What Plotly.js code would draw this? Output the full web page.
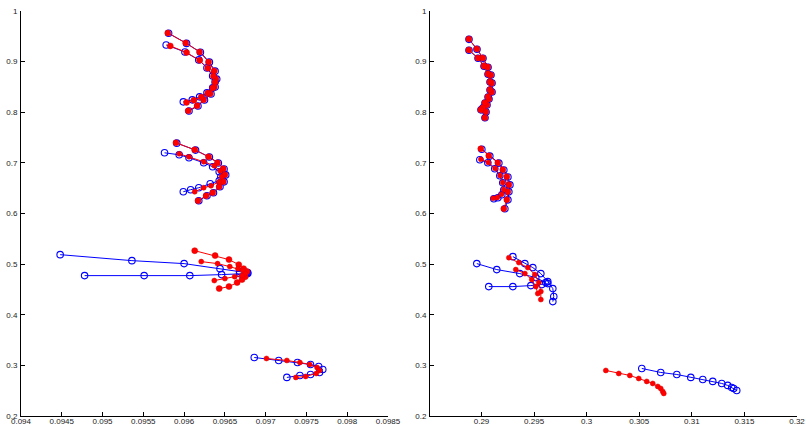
<!DOCTYPE html>
<html>
<head>
<meta charset="utf-8">
<script src="https://cdn.plot.ly/plotly-3.0.1.min.js"></script>
<style>html,body{margin:0;padding:0;background:#fff}#chart{width:806px;height:426px}</style>
</head>
<body>
<div id="chart"></div>
<script>
// ---------- Left panel data ----------
// group 1 (top)
const L1_blue1_x = [0.09581,0.09603,0.09620,0.09631,0.09638,0.09640,0.09638,0.09633,0.09625,0.09617,0.09606];
const L1_blue1_y = [0.9560,0.9360,0.9185,0.8990,0.8812,0.8655,0.8498,0.8360,0.8242,0.8124,0.8026];
const L1_blue2_x = [0.09578,0.09601,0.09618,0.09628,0.09635,0.09638,0.09635,0.09628,0.09619,0.09610,0.09599];
const L1_blue2_y = [0.9329,0.9191,0.9034,0.8876,0.8718,0.8600,0.8481,0.8383,0.8304,0.8245,0.8205];
const L1_red1_x = [0.09580,0.09602,0.09619,0.09630,0.09637,0.09639,0.09637,0.09632,0.09624,0.09616,0.09605];
const L1_red1_y = [0.9566,0.9369,0.9191,0.8994,0.8817,0.8659,0.8501,0.8363,0.8245,0.8126,0.8028];
const L1_red2_x = [0.09583,0.09603,0.09619,0.09629,0.09636,0.09638,0.09635,0.09629,0.09621,0.09612,0.09603];
const L1_red2_y = [0.9310,0.9180,0.9025,0.8870,0.8712,0.8595,0.8477,0.8378,0.8300,0.8238,0.8195];
// group 2
const L2_blue1_x = [0.09591,0.09614,0.09631,0.09642,0.09649,0.09651,0.09649,0.09644,0.09636,0.09628,0.09618];
const L2_blue1_y = [0.7390,0.7252,0.7115,0.6998,0.6880,0.6762,0.6625,0.6527,0.6409,0.6350,0.6252];
const L2_blue2_x = [0.09576,0.09594,0.09606,0.09624,0.09635,0.09643,0.09645,0.09643,0.09632,0.09618,0.09608,0.09599];
const L2_blue2_y = [0.7199,0.7160,0.7101,0.7002,0.6923,0.6824,0.6726,0.6647,0.6588,0.6509,0.6470,0.6430];
const L2_red1_x = [0.09590,0.09613,0.09630,0.09641,0.09648,0.09650,0.09648,0.09643,0.09635,0.09627,0.09617];
const L2_red1_y = [0.7397,0.7258,0.7120,0.7002,0.6884,0.6765,0.6627,0.6529,0.6410,0.6351,0.6252];
const L2_red2_x = [0.09594,0.09606,0.09624,0.09637,0.09644,0.09646,0.09643,0.09633,0.09624,0.09613];
const L2_red2_y = [0.7180,0.7120,0.7022,0.6943,0.6844,0.6726,0.6627,0.6548,0.6509,0.6430];
// group 3
const L3_blue1_x = [0.09448,0.09536,0.09600,0.09644,0.09668,0.09676,0.09678];
const L3_blue1_y = [0.5187,0.5069,0.5010,0.4911,0.4852,0.4833,0.4813];
const L3_blue2_x = [0.09478,0.09551,0.09607,0.09646,0.09668,0.09676,0.09678];
const L3_blue2_y = [0.4773,0.4773,0.4773,0.4793,0.4813,0.4813,0.4833];
const L3_red1_x = [0.09613,0.09638,0.09655,0.09667,0.09673,0.09677,0.09675,0.09671,0.09665,0.09655,0.09643];
const L3_red1_y = [0.5266,0.5168,0.5089,0.4990,0.4911,0.4852,0.4753,0.4694,0.4635,0.4556,0.4517];
const L3_red2_x = [0.09621,0.09641,0.09656,0.09666,0.09672,0.09675,0.09671,0.09662,0.09650,0.09637];
const L3_red2_y = [0.5050,0.5010,0.4951,0.4911,0.4872,0.4813,0.4773,0.4753,0.4714,0.4675];
// group 4
const L4_blue1_x = [0.09686,0.09716,0.09739,0.09755,0.09765,0.09770,0.09766,0.09755,0.09742,0.09726];
const L4_blue1_y = [0.3156,0.3097,0.3057,0.3018,0.2978,0.2919,0.2860,0.2820,0.2801,0.2762];
const L4_red1_x = [0.09701,0.09726,0.09742,0.09754,0.09763,0.09766,0.09762,0.09749,0.09737];
const L4_red1_y = [0.3136,0.3097,0.3057,0.3018,0.2959,0.2900,0.2840,0.2781,0.2762];

// ---------- Right panel data ----------
const R1_blue1_x = [0.28881,0.28957,0.29014,0.29062,0.29090,0.29100,0.29100,0.29071,0.29052,0.29043,0.29033];
const R1_blue1_y = [0.9440,0.9245,0.9068,0.8890,0.8735,0.8578,0.8400,0.8262,0.8145,0.8006,0.7890];
const R1_blue2_x = [0.28881,0.28967,0.29024,0.29062,0.29081,0.29081,0.29062,0.29033,0.29014,0.28995];
const R1_blue2_y = [0.9225,0.9068,0.8910,0.8752,0.8596,0.8440,0.8302,0.8184,0.8086,0.8047];
const R1_red1_x = [0.28879,0.28955,0.29012,0.29060,0.29088,0.29098,0.29098,0.29069,0.29050,0.29041,0.29031];
const R1_red1_y = [0.9448,0.9251,0.9073,0.8895,0.8738,0.8580,0.8402,0.8264,0.8146,0.8008,0.7890];
const R1_red2_x = [0.28879,0.28965,0.29022,0.29060,0.29079,0.29079,0.29060,0.29031,0.29012,0.28993];
const R1_red2_y = [0.9231,0.9073,0.8915,0.8757,0.8600,0.8442,0.8304,0.8186,0.8087,0.8047];

const R2_blue1_x = [0.29003,0.29079,0.29165,0.29212,0.29251,0.29270,0.29260,0.29251,0.29222];
const R2_blue1_y = [0.7270,0.7134,0.6996,0.6860,0.6722,0.6565,0.6428,0.6270,0.6095];
const R2_blue2_x = [0.28984,0.29060,0.29126,0.29174,0.29202,0.29212,0.29193,0.29155,0.29117];
const R2_blue2_y = [0.7061,0.7002,0.6884,0.6746,0.6608,0.6470,0.6371,0.6312,0.6292];
const R2_red1_x = [0.28993,0.29069,0.29155,0.29202,0.29241,0.29260,0.29250,0.29241,0.29212];
const R2_red1_y = [0.7278,0.7140,0.7002,0.6864,0.6726,0.6568,0.6430,0.6272,0.6095];
const R2_red2_x = [0.28994,0.29065,0.29130,0.29176,0.29202,0.29210,0.29190,0.29150,0.29110];
const R2_red2_y = [0.7070,0.7008,0.6890,0.6752,0.6614,0.6476,0.6378,0.6318,0.6300];

const R3_blue1_x = [0.28955,0.29145,0.29364,0.29516,0.29611];
const R3_blue1_y = [0.5010,0.4892,0.4813,0.4734,0.4635];
const R3_blue2_x = [0.29069,0.29298,0.29469,0.29573,0.29630];
const R3_blue2_y = [0.4556,0.4556,0.4576,0.4596,0.4615];
const R3_blue3_x = [0.29298,0.29412,0.29488,0.29564,0.29630,0.29678,0.29687,0.29678];
const R3_blue3_y = [0.5148,0.5010,0.4931,0.4813,0.4655,0.4517,0.4360,0.4260];
const R3_red1_x = [0.29260,0.29355,0.29440,0.29507,0.29545,0.29564,0.29564];
const R3_red1_y = [0.5128,0.5030,0.4931,0.4793,0.4635,0.4458,0.4300];
const R3_red2_x = [0.29326,0.29412,0.29478,0.29516,0.29535];
const R3_red2_y = [0.4892,0.4813,0.4694,0.4556,0.4418];

const R4_blue1_x = [0.30524,0.30704,0.30857,0.30990,0.31104,0.31199,0.31284,0.31341,0.31379,0.31398,0.31427];
const R4_blue1_y = [0.2939,0.2860,0.2820,0.2762,0.2722,0.2683,0.2643,0.2604,0.2564,0.2544,0.2505];
const R4_red1_x = [0.30182,0.30305,0.30410,0.30495,0.30571,0.30628,0.30676,0.30704,0.30723,0.30733];
const R4_red1_y = [0.2900,0.2840,0.2801,0.2741,0.2683,0.2643,0.2584,0.2544,0.2485,0.2446];

// ---------- Tick labels ----------
const leftXTicks = [0.094,0.0945,0.095,0.0955,0.096,0.0965,0.097,0.0975,0.098,0.0985];
const leftXLabels = ['0.094','0.0945','0.095','0.0955','0.096','0.0965','0.097','0.0975','0.098','0.0985'];
const rightXTicks = [0.29,0.295,0.3,0.305,0.31,0.315,0.32];
const rightXLabels = ['0.29','0.295','0.3','0.305','0.31','0.315','0.32'];
const yTicks = [0.2,0.3,0.4,0.5,0.6,0.7,0.8,0.9,1];
const yLabels = ['0.2','0.3','0.4','0.5','0.6','0.7','0.8','0.9','1'];

// ---------- Build traces ----------
const blueCurves = [
  [L1_blue1_x,L1_blue1_y,'L'],[L1_blue2_x,L1_blue2_y,'L'],
  [L2_blue1_x,L2_blue1_y,'L'],[L2_blue2_x,L2_blue2_y,'L'],
  [L3_blue1_x,L3_blue1_y,'L'],[L3_blue2_x,L3_blue2_y,'L'],
  [L4_blue1_x,L4_blue1_y,'L'],
  [R1_blue1_x,R1_blue1_y,'R'],[R1_blue2_x,R1_blue2_y,'R'],
  [R2_blue1_x,R2_blue1_y,'R'],[R2_blue2_x,R2_blue2_y,'R'],
  [R3_blue1_x,R3_blue1_y,'R'],[R3_blue2_x,R3_blue2_y,'R'],[R3_blue3_x,R3_blue3_y,'R'],
  [R4_blue1_x,R4_blue1_y,'R']
];
const redCurves = [
  [L1_red1_x,L1_red1_y,'L',6],[L1_red2_x,L1_red2_y,'L',6],
  [L2_red1_x,L2_red1_y,'L',6],[L2_red2_x,L2_red2_y,'L',5],
  [L3_red1_x,L3_red1_y,'L',6],[L3_red2_x,L3_red2_y,'L',5],
  [L4_red1_x,L4_red1_y,'L',5],
  [R1_red1_x,R1_red1_y,'R',6],[R1_red2_x,R1_red2_y,'R',6],
  [R2_red1_x,R2_red1_y,'R',6],[R2_red2_x,R2_red2_y,'R',5],
  [R3_red1_x,R3_red1_y,'R',5],[R3_red2_x,R3_red2_y,'R',5],
  [R4_red1_x,R4_red1_y,'R',5]
];
const traces = [];
blueCurves.forEach(c => traces.push({
  x:c[0], y:c[1], type:'scatter', mode:'lines+markers',
  xaxis: c[2]==='L'?'x':'x2', yaxis: c[2]==='L'?'y':'y2',
  line:{color:'#0000ff', width:1},
  marker:{symbol:'circle-open', size:6.5, color:'#0000ff', line:{width:1.1, color:'#0000ff'}},
  showlegend:false, hoverinfo:'skip'
}));
redCurves.forEach(c => traces.push({
  x:c[0], y:c[1], type:'scatter', mode:'lines+markers',
  xaxis: c[2]==='L'?'x':'x2', yaxis: c[2]==='L'?'y':'y2',
  line:{color:'#ff0000', width:1},
  marker:{symbol:'circle', size:c[3], color:'#ff0000', line:{width:0.5, color:'#dd0000'}},
  showlegend:false, hoverinfo:'skip'
}));

const tickFont = {family:'Liberation Sans, Arial, Helvetica, sans-serif', size:8, color:'#222'};
const W = 806, H = 426;
function axisBase(){
  return {showline:true, linecolor:'#000', linewidth:1, ticks:'inside', ticklen:4, tickwidth:1,
    tickcolor:'#000', showgrid:false, zeroline:false, mirror:false, tickfont:tickFont, fixedrange:true};
}
const yDom = [1-416/H, 1-11/H];
const layout = {
  width:W, height:H, margin:{l:0,r:0,t:0,b:0}, paper_bgcolor:'#fff', plot_bgcolor:'#fff',
  showlegend:false,
  xaxis: Object.assign(axisBase(), {domain:[21/W, 388/W], range:[0.094,0.0985], tickmode:'array', tickvals:leftXTicks, ticktext:leftXLabels, anchor:'y', ticklabelstandoff:-3}),
  yaxis: Object.assign(axisBase(), {domain:yDom, range:[0.2,1], tickmode:'array', tickvals:yTicks, ticktext:yLabels, anchor:'x', ticklabelstandoff:1}),
  xaxis2: Object.assign(axisBase(), {domain:[430/W, 797/W], range:[0.2851,0.32], tickmode:'array', tickvals:rightXTicks, ticktext:rightXLabels, anchor:'y2', ticklabelstandoff:-3}),
  yaxis2: Object.assign(axisBase(), {domain:yDom, range:[0.2,1], tickmode:'array', tickvals:yTicks, ticktext:yLabels, anchor:'x2', ticklabelstandoff:1})
};
Plotly.newPlot('chart', traces, layout, {displayModeBar:false, staticPlot:true});
</script>
</body>
</html>
